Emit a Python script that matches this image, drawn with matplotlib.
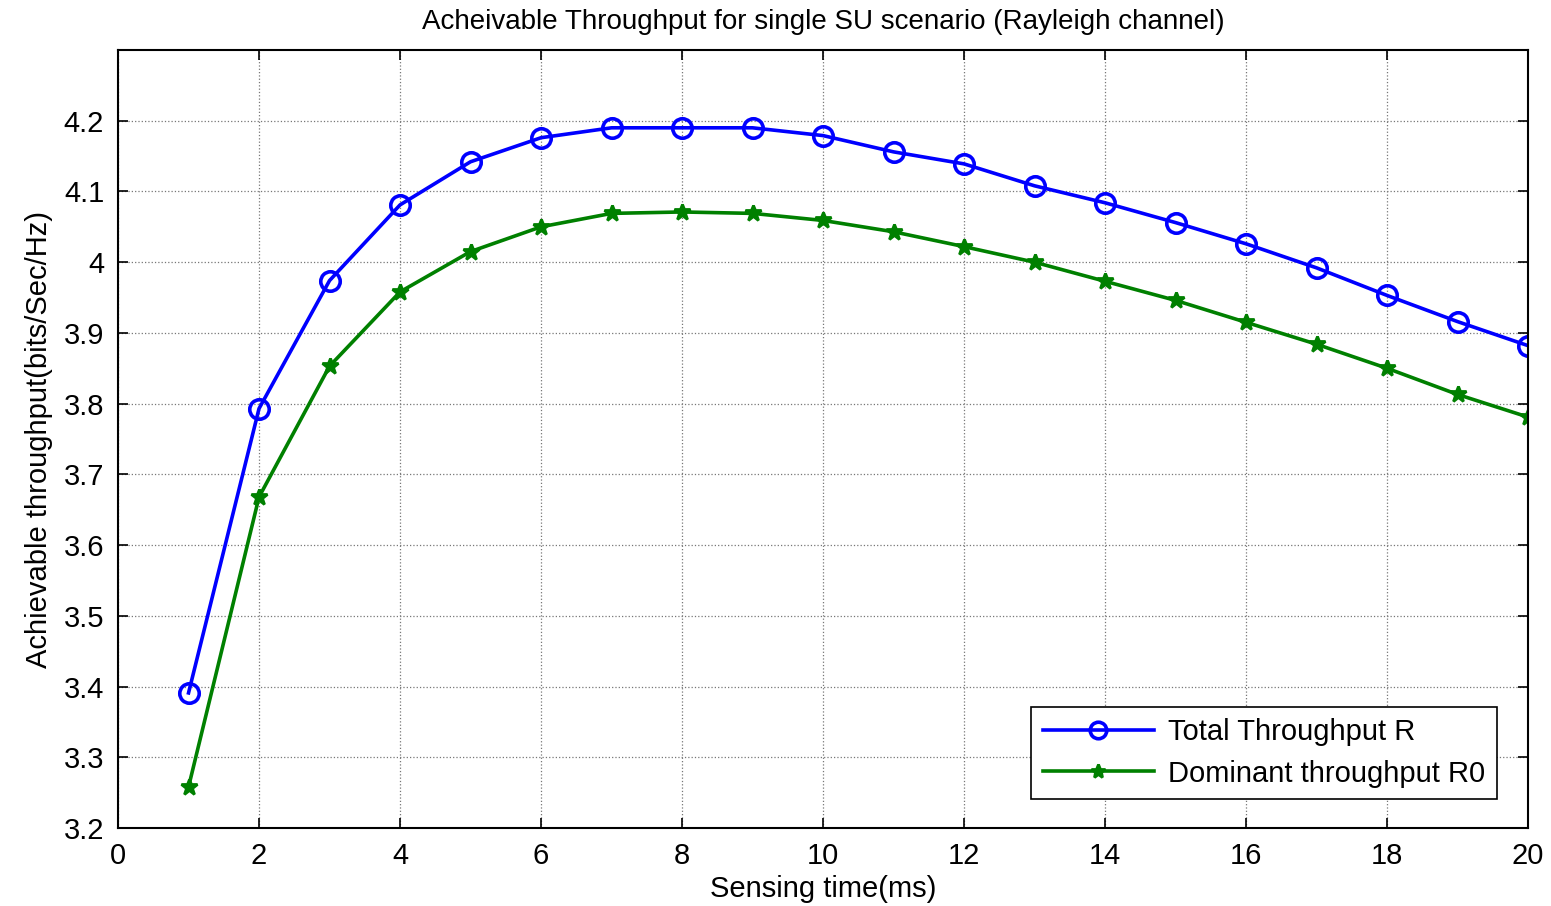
import matplotlib
matplotlib.use("Agg")
import matplotlib.pyplot as plt

plt.rcParams['font.family'] = ['Liberation Sans', 'DejaVu Sans']

sensing_time = list(range(1, 21))
total_R = [3.391, 3.793, 3.974, 4.081, 4.142, 4.176, 4.190, 4.190, 4.190, 4.179,
           4.156, 4.139, 4.108, 4.084, 4.056, 4.026, 3.992, 3.953, 3.916, 3.882]
dominant_R0 = [3.258, 3.668, 3.853, 3.958, 4.015, 4.050, 4.069, 4.071, 4.069, 4.059,
               4.043, 4.022, 4.000, 3.973, 3.946, 3.915, 3.884, 3.850, 3.813, 3.781]

fig = plt.figure(figsize=(15.51, 9.06), dpi=100)
ax = fig.add_axes([0.0761, 0.0861, 0.9091, 0.8587])

ax.plot(sensing_time, total_R, '-o', color='blue', lw=2.6, ms=14, mew=2.6,
        mfc='none', label='Total Throughput R')
ax.plot(sensing_time, dominant_R0, '-*', color='green', lw=2.6, ms=12, mew=2,
        label='Dominant throughput R0')

ax.set_xlim(0, 20)
ax.set_ylim(3.2, 4.3)
ax.set_xticks(range(0, 21, 2))
ax.set_yticks([3.2, 3.3, 3.4, 3.5, 3.6, 3.7, 3.8, 3.9, 4.0, 4.1, 4.2])
ax.set_yticklabels(['3.2', '3.3', '3.4', '3.5', '3.6', '3.7', '3.8', '3.9', '4', '4.1', '4.2'])
ax.tick_params(direction='in', top=True, right=True, labelsize=21, length=7, width=1.2)
ax.tick_params(axis='x', pad=10)
ax.tick_params(axis='y', pad=10)
ax.grid(True, linestyle=':', color='#777777', linewidth=0.9)
for s in ax.spines.values():
    s.set_linewidth(1.5)

ax.set_title('Acheivable Throughput for single SU scenario (Rayleigh channel)', fontsize=20, pad=15)
ax.set_xlabel('Sensing time(ms)', fontsize=21, labelpad=4)
ax.set_ylabel('Achievable throughput(bits/Sec/Hz)', fontsize=21, labelpad=8)

leg = ax.legend(loc='lower right', bbox_to_anchor=(0.978, 0.037), borderaxespad=0,
                fontsize=21, fancybox=False, edgecolor='black', framealpha=1,
                handlelength=3.8, borderpad=0.4, labelspacing=0.45, handletextpad=0.5,
                markerscale=0.85)
leg.get_frame().set_linewidth(1.2)

fig.savefig('out.png', dpi=100)
